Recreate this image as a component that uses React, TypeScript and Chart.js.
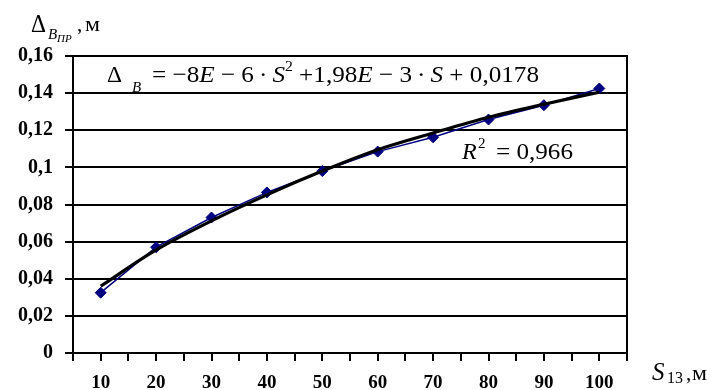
import React, { useEffect, useRef } from 'react';
import { Chart, registerables } from 'chart.js';

Chart.register(...registerables);

// ---- data ----
const distances = [10, 20, 30, 40, 50, 60, 70, 80, 90, 100];
const measured = [0.0325, 0.057, 0.073, 0.0865, 0.098, 0.1085, 0.1162, 0.1258, 0.1335, 0.1425];
const trendValues = [0.036, 0.0555, 0.0712, 0.0852, 0.098, 0.1095, 0.1185, 0.127, 0.134, 0.1405];
const xLabelValues = [10, 20, 30, 40, 50, 60, 70, 80, 90, 100];
const yTicks = [0, 0.02, 0.04, 0.06, 0.08, 0.1, 0.12, 0.14, 0.16];

const SERIF = "'Liberation Serif', 'Times New Roman', serif";

type Run = { text: string; size: number; italic?: boolean; bold?: boolean; dy?: number };

function fontOf(r: Run) {
  return `${r.italic ? 'italic ' : ''}${r.bold ? 'bold ' : ''}${r.size}px ${SERIF}`;
}

// draws runs left to right; if targetEnd is given the whole group is stretched horizontally to end there
function drawRuns(ctx: CanvasRenderingContext2D, x: number, y: number, runs: Run[], targetEnd?: number) {
  const widths = runs.map((r) => {
    ctx.font = fontOf(r);
    return ctx.measureText(r.text).width;
  });
  const total = widths.reduce((a, b) => a + b, 0);
  const sx = targetEnd !== undefined && total > 0 ? (targetEnd - x) / total : 1;
  ctx.save();
  ctx.translate(x, y);
  ctx.scale(sx, 1);
  let cx = 0;
  runs.forEach((r, i) => {
    ctx.font = fontOf(r);
    ctx.fillText(r.text, cx, r.dy || 0);
    cx += widths[i];
  });
  ctx.restore();
}

const textPlugin = {
  id: 'texts',
  afterDraw(chart: any) {
    const ctx: CanvasRenderingContext2D = chart.ctx;
    const area = chart.chartArea;
    ctx.save();
    // right frame line
    ctx.strokeStyle = '#000';
    ctx.lineWidth = 2;
    ctx.beginPath();
    ctx.moveTo(area.right, area.top - 1);
    ctx.lineTo(area.right, area.bottom + 1);
    ctx.stroke();

    ctx.fillStyle = '#000';
    ctx.textAlign = 'left';
    ctx.textBaseline = 'alphabetic';

    // y-axis title
    drawRuns(ctx, 31, 32, [{ text: 'Δ', size: 25 }], 46);
    drawRuns(ctx, 48, 39, [{ text: 'B', size: 15, italic: true }]);
    drawRuns(ctx, 57, 42, [{ text: 'ПР', size: 11, italic: true }]);
    drawRuns(ctx, 77, 31, [{ text: ',', size: 21 }]);
    drawRuns(ctx, 85, 31, [{ text: 'м', size: 22 }], 100);

    // x-axis title
    drawRuns(ctx, 652, 380, [{ text: 'S', size: 25, italic: true }]);
    drawRuns(ctx, 667, 383, [{ text: '13', size: 16 }]);
    drawRuns(ctx, 686, 380, [{ text: ',', size: 21 }]);
    drawRuns(ctx, 692, 380, [{ text: 'м', size: 22 }], 707);

    // equation
    drawRuns(ctx, 107, 82, [{ text: 'Δ', size: 23 }], 122);
    drawRuns(ctx, 132, 92, [{ text: 'B', size: 15, italic: true }]);
    drawRuns(
      ctx,
      152,
      82,
      [
        { text: '= −8', size: 24 },
        { text: 'E', size: 24, italic: true },
        { text: ' − 6\u2009·\u2009', size: 24 },
        { text: 'S', size: 24, italic: true },
        { text: '2', size: 15, dy: -11 },
        { text: ' +1,98', size: 24 },
        { text: 'E', size: 24, italic: true },
        { text: ' − 3\u2009·\u2009', size: 24 },
        { text: 'S', size: 24, italic: true },
        { text: ' + 0,0178', size: 24 },
      ],
      539
    );

    // R^2
    drawRuns(ctx, 462, 159, [{ text: 'R', size: 24, italic: true }]);
    drawRuns(ctx, 478, 148, [{ text: '2', size: 15 }]);
    drawRuns(ctx, 496, 159, [{ text: '= 0,966', size: 24 }], 573);
    ctx.restore();
  },
};

export default function App() {
  const ref = useRef<HTMLCanvasElement | null>(null);

  useEffect(() => {
    if (!ref.current) return;
    const chart = new Chart(ref.current, {
      type: 'line',
      data: {
        datasets: [
          {
            label: 'trend',
            data: distances.map((s, i) => ({ x: s, y: trendValues[i] })),
            borderColor: '#000',
            borderWidth: 3.2,
            pointRadius: 0,
            cubicInterpolationMode: 'monotone',
            fill: false,
            order: 0,
          },
          {
            label: 'measured',
            data: distances.map((s, i) => ({ x: s, y: measured[i] })),
            borderColor: '#000080',
            borderWidth: 1.5,
            pointStyle: 'rectRot',
            pointRadius: 5.5,
            pointBackgroundColor: '#000080',
            pointBorderColor: '#000080',
            pointBorderWidth: 1,
            tension: 0,
            fill: false,
            order: 1,
          },
        ],
      },
      options: {
        animation: false,
        responsive: false,
        events: [],
        layout: { padding: { left: 0, top: 56, right: 83, bottom: 0 } },
        plugins: { legend: { display: false }, tooltip: { enabled: false } },
        scales: {
          x: {
            type: 'linear',
            min: 5,
            max: 105,
            afterFit: (s: any) => {
              s.height = 37;
            },
            ticks: {
              stepSize: 5,
              autoSkip: false,
              maxRotation: 0,
              padding: 11,
              color: '#000',
              font: { family: SERIF, size: 19, weight: 'bold' },
              callback: (v: any) => (xLabelValues.includes(Number(v)) ? String(v) : ''),
            },
            grid: { drawOnChartArea: false, drawTicks: true, tickLength: 8, color: '#000', lineWidth: 2 },
            border: { color: '#000', width: 2 },
          },
          y: {
            min: 0,
            max: 0.16,
            afterFit: (s: any) => {
              s.width = 73;
            },
            afterBuildTicks: (s: any) => {
              s.ticks = yTicks.map((v) => ({ value: v }));
            },
            ticks: {
              padding: 12,
              color: '#000',
              font: { family: SERIF, size: 20, weight: 'bold' },
              callback: (v: any) => String(Math.round(Number(v) * 100) / 100).replace('.', ','),
            },
            grid: { drawTicks: true, tickLength: 8, color: '#000', lineWidth: 2 },
            border: { color: '#000', width: 2 },
          },
        },
      },
      plugins: [textPlugin],
    } as any);
    return () => chart.destroy();
  }, []);

  return (
    <div style={{ position: 'fixed', left: 0, top: 0, width: 710, height: 390, background: '#fff' }}>
      <canvas ref={ref} width={710} height={390} style={{ display: 'block' }} />
    </div>
  );
}
